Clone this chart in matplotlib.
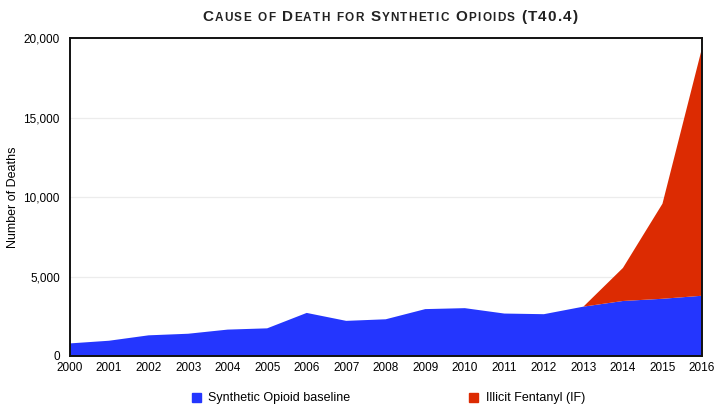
import matplotlib
matplotlib.use("Agg")
import matplotlib.pyplot as plt
from matplotlib.offsetbox import TextArea, HPacker, AnnotationBbox
from matplotlib.ticker import FuncFormatter

# Data
years = [2000, 2001, 2002, 2003, 2004, 2005, 2006, 2007, 2008,
         2009, 2010, 2011, 2012, 2013, 2014, 2015, 2016]
baseline = [790, 960, 1300, 1400, 1660, 1740, 2710, 2210, 2310,
            2950, 3010, 2670, 2630, 3105, 3460, 3600, 3790]
illicit_fentanyl = [0, 0, 0, 0, 0, 0, 0, 0, 0,
                    0, 0, 0, 0, 0, 2080, 5980, 15580]

blue = "#2436fe"
red = "#dc2b02"

plt.rcParams["font.family"] = ["Liberation Sans", "DejaVu Sans"]

fig = plt.figure(figsize=(7.15, 4.05), dpi=100)
ax = fig.add_axes([69.5 / 715, 0.121, 632.5 / 715, 0.785])

ax.stackplot(years, baseline, illicit_fentanyl, colors=[blue, red],
             linewidth=0, zorder=2)

ax.set_xlim(2000, 2016)
ax.set_ylim(0, 20000)
ax.set_xticks(years)
ax.set_yticks([0, 5000, 10000, 15000, 20000])
ax.yaxis.set_major_formatter(FuncFormatter(lambda v, p: f"{int(v):,}"))
ax.tick_params(length=0, labelsize=8.5)
ax.tick_params(axis="y", pad=7)
ax.tick_params(axis="x", pad=4)
ax.grid(axis="y", color="#ececec", linewidth=0.9, zorder=0)
for s in ax.spines.values():
    s.set_linewidth(1.4)
    s.set_color("#111111")
ax.set_ylabel("Number of Deaths", fontsize=9)
ax.yaxis.set_label_coords(-50 / 632.5, 0.5)

# Small-caps title built from pieces
def small_caps(text, big=11, small=8.5):
    parts = []
    for word_i, word in enumerate(text.split(" ")):
        if word_i:
            parts.append(TextArea(" ", textprops=dict(size=big, weight="bold")))
        for ch in word:
            size = small if ch.islower() else big
            parts.append(TextArea(ch.upper(),
                                  textprops=dict(size=size, weight="bold",
                                                 color="#222222")))
    return HPacker(children=parts, align="baseline", pad=0, sep=0.9)

title = AnnotationBbox(small_caps("Cause of Death for Synthetic Opioids (T40.4)"),
                       (390 / 715, 0.958), xycoords="figure fraction",
                       frameon=False, box_alignment=(0.5, 0.5))
fig.add_artist(title)

# Legend
fig.patches.append(plt.Rectangle((192 / 715, 3 / 405), 9 / 715, 9 / 405,
                                 transform=fig.transFigure, color=blue))
fig.text(208 / 715, 0.0185, "Synthetic Opioid baseline", fontsize=9, va="center")
fig.patches.append(plt.Rectangle((469 / 715, 3 / 405), 9 / 715, 9 / 405,
                                 transform=fig.transFigure, color=red))
fig.text(486 / 715, 0.0185, "Illicit Fentanyl (IF)", fontsize=9, va="center")

fig.savefig("out.png", dpi=100)
